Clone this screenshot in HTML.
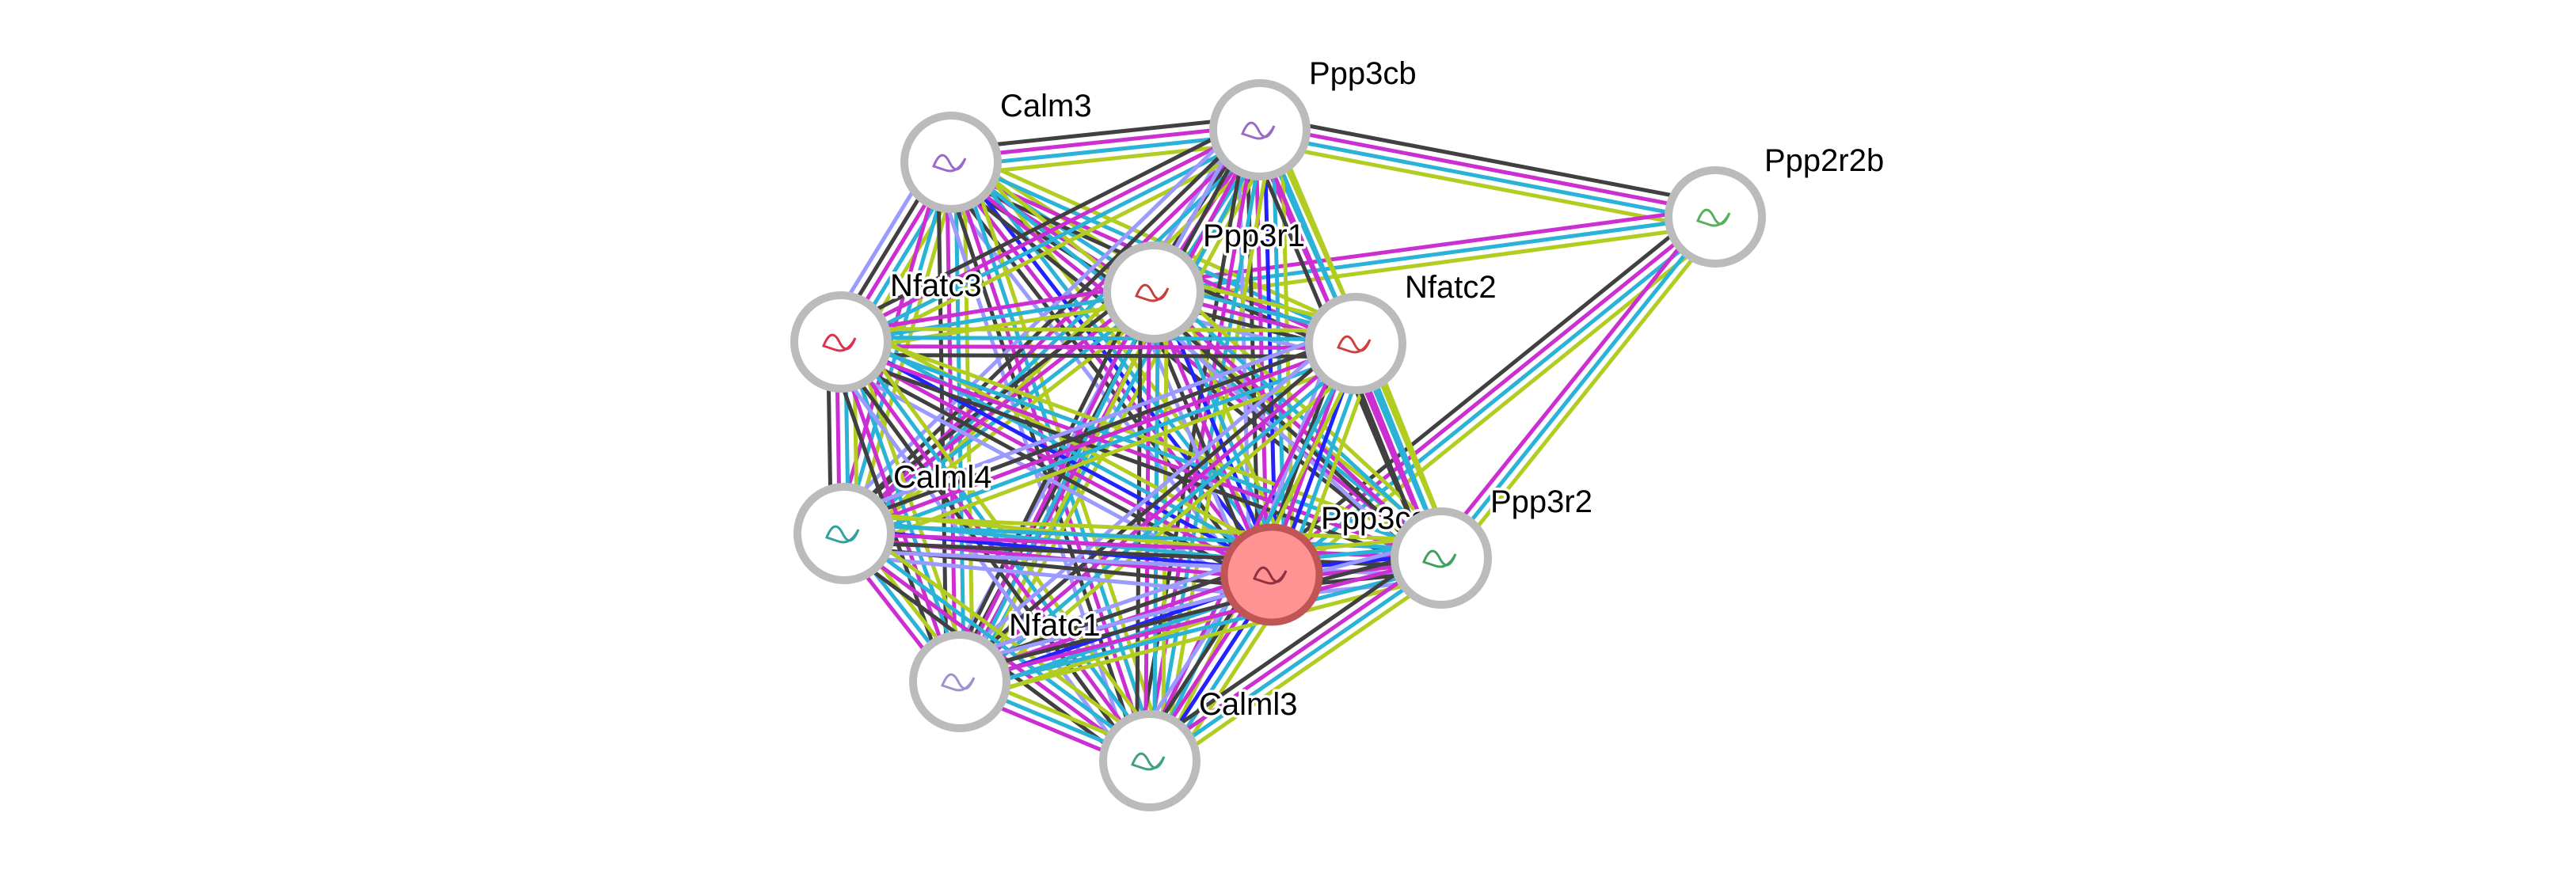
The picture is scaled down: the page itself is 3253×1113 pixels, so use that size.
<!DOCTYPE html>
<html><head><meta charset="utf-8"><style>
html,body{margin:0;padding:0;background:#fff;width:3253px;height:1113px;overflow:hidden}
svg{display:block}
text{font-family:"Liberation Sans",sans-serif;font-size:40px;fill:#000;paint-order:stroke;stroke:#fff;stroke-width:7px;stroke-linejoin:round}
</style></head><body>
<svg id="s" width="3253" height="1113" xmlns="http://www.w3.org/2000/svg"><g id="e"></g><g id="n"></g></svg>
<script>
var N={A:[1201,205,"Calm3"],B:[1591,164,"Ppp3cb"],P:[2166,274,"Ppp2r2b"],R1:[1457,369,"Ppp3r1"],N3:[1062,432,"Nfatc3"],N2:[1712,434,"Nfatc2"],L4:[1066,674,"Calml4"],CA:[1606,726,"Ppp3ca"],R2:[1820,705,"Ppp3r2"],N1:[1212,861,"Nfatc1"],L3:[1452,961,"Calml3"]};
var C={y:"#b3cc22",c:"#2ab3d6",m:"#cc2fd1",k:"#404040",b:"#2222ff",l:"#9a9aff"};
var E=[["B","P","kmcy"],["R1","P","mcy"],["CA","P","kmcy"],["R2","P","mcy"],["A","B","kmcy"]];
var cl=["A","B","R1","N3","N2","L4","CA","R2","N1","L3"];
for(var i=0;i<cl.length;i++)for(var j=i+1;j<cl.length;j++){
 var a=cl[i],b=cl[j];if(a=="A"&&b=="B")continue;
 var s="ycmk";
 if(a=="CA"||b=="CA")s="ycbmkl";
 else if((i+j)%3==0)s="ycmkl";
 else if((i+j)%4==1)s="ycm";
 E.push([a,b,s]);}
var g=document.getElementById("e"),h="";
E.forEach(function(e){var p=N[e[0]],q=N[e[1]],dx=q[0]-p[0],dy=q[1]-p[1],L=Math.hypot(dx,dy),nx=-dy/L,ny=dx/L,n=e[2].length;
 for(var k=0;k<n;k++){var o=(k-(n-1)/2)*11;
 h+='<line x1="'+(p[0]+nx*o)+'" y1="'+(p[1]+ny*o)+'" x2="'+(q[0]+nx*o)+'" y2="'+(q[1]+ny*o)+'" stroke="'+C[e[2][k]]+'" stroke-width="5"/>';}});
g.innerHTML=h;
var ic={A:"#9a6ac8",B:"#9a6ac8",P:"#5ab05a",R1:"#c84040",N3:"#e03050",N2:"#d04040",L4:"#30a0a0",CA:"#903040",R2:"#40a060",N1:"#a090d0",L3:"#40a080"};
var t="";
for(var k in N){var p=N[k],red=k=="CA";
 t+='<circle cx="'+p[0]+'" cy="'+p[1]+'" r="'+(red?60:59)+'" fill="'+(red?"#ff9393":"#fff")+'" stroke="'+(red?"#c05555":"#bbb")+'" stroke-width="'+(red?9:10)+'"/>';
 t+='<path d="M'+(p[0]-22)+' '+(p[1]+5)+' q10 -25 20 -5 t20 -5 q-10 20 -25 15 z" fill="none" stroke="'+ic[k]+'" stroke-width="3"/>';
 t+='<text x="'+(p[0]+62)+'" y="'+(p[1]-58)+'">'+p[2]+'</text>';}
document.getElementById("n").innerHTML=t;
</script>
</svg>
</body></html>
